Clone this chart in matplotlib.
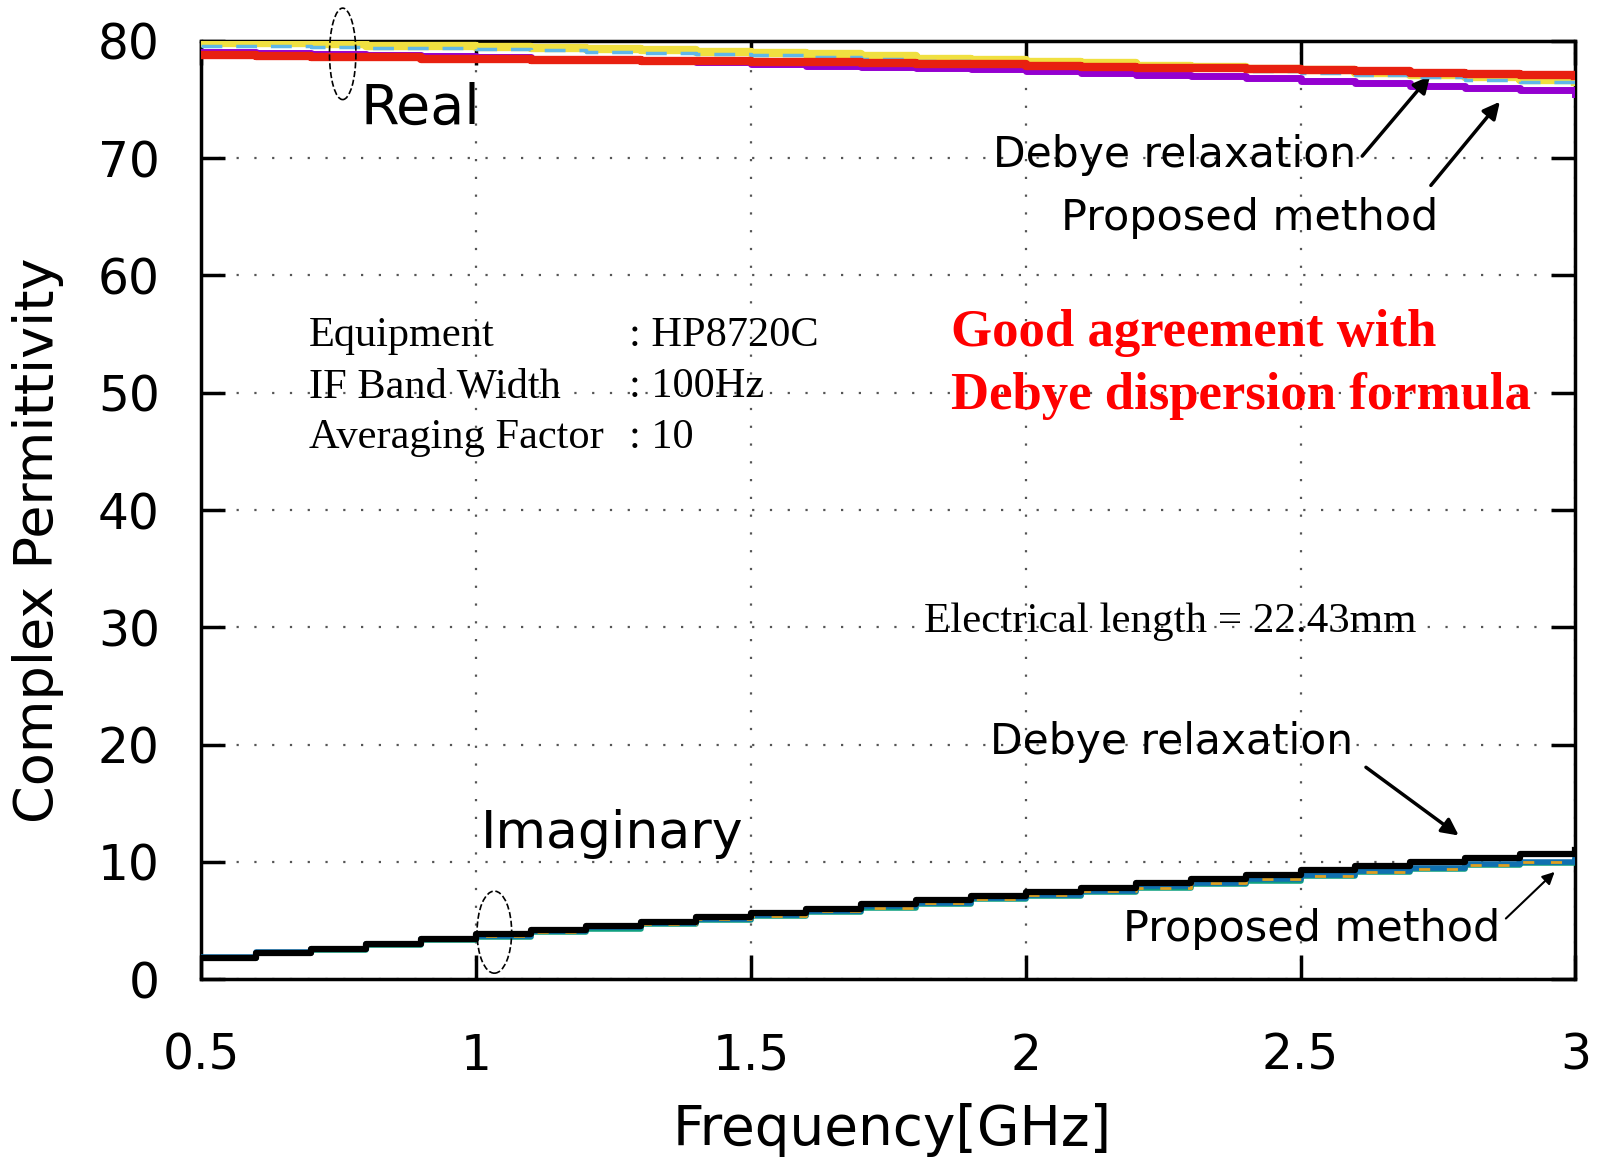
import numpy as np
import matplotlib
matplotlib.use('Agg')
import matplotlib.pyplot as plt
from matplotlib.patches import Ellipse

# frequency samples [GHz]
freq = [0.5, 0.6, 0.7, 0.8, 0.9, 1.0, 1.1, 1.2, 1.3, 1.4, 1.5, 1.6, 1.7,
        1.8, 1.9, 2.0, 2.1, 2.2, 2.3, 2.4, 2.5, 2.6, 2.7, 2.8, 2.9, 3.0]

# real part
real_yellow = [79.8, 79.8, 79.7, 79.6, 79.6, 79.5, 79.4, 79.3, 79.2, 79.1, 79.0, 78.9, 78.7,
               78.5, 78.4, 78.2, 78.1, 77.9, 77.8, 77.6, 77.5, 77.3, 77.1, 76.9, 76.7, 76.5]
real_cyan = [79.6, 79.6, 79.5, 79.4, 79.4, 79.3, 79.2, 79.1, 79.0, 78.9, 78.8, 78.6, 78.5,
             78.3, 78.2, 78.0, 77.9, 77.7, 77.6, 77.4, 77.3, 77.1, 76.9, 76.7, 76.5, 76.3]
real_purple = [79.1, 79.0, 78.9, 78.8, 78.7, 78.6, 78.5, 78.4, 78.3, 78.2, 78.0, 77.9, 77.8,
               77.7, 77.6, 77.4, 77.3, 77.1, 77.0, 76.8, 76.6, 76.4, 76.2, 76.0, 75.8, 75.5]
real_debye = [78.8, 78.7, 78.6, 78.6, 78.5, 78.5, 78.4, 78.4, 78.3, 78.3, 78.2, 78.2, 78.1,
              78.0, 78.0, 77.9, 77.8, 77.7, 77.7, 77.6, 77.5, 77.4, 77.3, 77.2, 77.1, 77.0]

# imaginary part
imag_debye = [1.8, 2.2, 2.6, 3.0, 3.4, 3.8, 4.2, 4.5, 4.9, 5.3, 5.6, 6.0, 6.4,
              6.7, 7.1, 7.4, 7.8, 8.2, 8.5, 8.9, 9.3, 9.6, 10.0, 10.3, 10.7, 11.0]
imag_blue = [1.9, 2.3, 2.6, 3.0, 3.4, 3.7, 4.1, 4.4, 4.8, 5.1, 5.5, 5.8, 6.2,
             6.5, 6.9, 7.2, 7.5, 7.9, 8.2, 8.5, 8.9, 9.2, 9.5, 9.8, 10.0, 10.2]
imag_green = [1.8, 2.2, 2.5, 2.9, 3.3, 3.6, 4.0, 4.3, 4.7, 5.0, 5.4, 5.7, 6.1,
              6.4, 6.8, 7.1, 7.4, 7.8, 8.1, 8.4, 8.8, 9.1, 9.4, 9.7, 9.9, 10.1]
imag_orange = [1.9, 2.2, 2.6, 3.0, 3.3, 3.7, 4.0, 4.4, 4.7, 5.1, 5.4, 5.8, 6.1,
               6.5, 6.8, 7.2, 7.5, 7.8, 8.2, 8.5, 8.8, 9.1, 9.4, 9.7, 10.0, 10.2]

xticks = [0.5, 1, 1.5, 2, 2.5, 3]
xtick_labels = ['0.5', '1', '1.5', '2', '2.5', '3']
yticks = [0, 10, 20, 30, 40, 50, 60, 70, 80]

gothic = ['DejaVu Sans']
serif = ['Liberation Serif', 'DejaVu Serif']

fig = plt.figure(figsize=(16.04, 11.57), dpi=100)
ax = fig.add_axes([0.1256, 0.1538, 0.8565, 0.8108])

ax.plot(freq, real_yellow, color='#f0e040', lw=6, drawstyle='steps-post', zorder=3)
ax.plot(freq, real_cyan, color='#60b8e8', lw=2.5, ls=(0, (6, 4)), drawstyle='steps-post', zorder=4)
ax.plot(freq, real_purple, color='#9400d0', lw=5, drawstyle='steps-post', zorder=3)
ax.plot(freq, real_debye, color='#e82010', lw=6, drawstyle='steps-post', zorder=5)

ax.plot(freq, imag_green, color='#10a080', lw=4, drawstyle='steps-post', zorder=3)
ax.plot(freq, imag_blue, color='#1070b0', lw=4, drawstyle='steps-post', zorder=3)
ax.plot(freq, imag_orange, color='#e0a020', lw=2, ls=(0, (4, 6)), drawstyle='steps-post', zorder=4)
ax.plot(freq, imag_debye, color='black', lw=4.5, drawstyle='steps-post', zorder=5)

ax.set_xlim(0.5, 3)
ax.set_ylim(0, 80)
ax.set_xticks(xticks)
ax.set_xticklabels(xtick_labels)
ax.set_yticks(yticks)
ax.grid(True, color='#555555', ls=(0, (1, 7)), lw=1.6)
ax.tick_params(direction='in', length=17, width=2.5, top=True, right=True, labelsize=35)
ax.tick_params(axis='x', pad=38)
ax.tick_params(axis='y', pad=30)
for lab in ax.get_xticklabels() + ax.get_yticklabels():
    lab.set_family(gothic)
for s in ax.spines.values():
    s.set_linewidth(2.5)

ax.set_xlabel('Frequency[GHz]', fontsize=39.5, family=gothic)
ax.set_ylabel('Complex Permittivity', fontsize=39, family=gothic)
ax.xaxis.set_label_coords(0.503, -0.132)
ax.yaxis.set_label_coords(-0.100, 0.468)

# annotations
ax.text(0.79, 74.2, 'Real', fontsize=40, family=gothic, va='center')
ax.text(1.008, 12.4, 'Imaginary', fontsize=37.5, family=gothic, va='center')
ax.text(1.94, 70.3, 'Debye relaxation', fontsize=30.5, family=gothic, va='center')
ax.text(2.065, 64.9, 'Proposed method', fontsize=31, family=gothic, va='center')
ax.text(1.935, 20.2, 'Debye relaxation', fontsize=30.5, family=gothic, va='center')
ax.text(2.177, 4.3, 'Proposed method', fontsize=31, family=gothic, va='center')

arw = dict(arrowstyle='-|>', color='black', lw=2.5, mutation_scale=25)
ax.annotate('', xy=(2.739, 77.2), xytext=(2.609, 70.0), arrowprops=arw)
ax.annotate('', xy=(2.866, 75.0), xytext=(2.734, 67.5), arrowprops=arw)
ax.annotate('', xy=(2.792, 12.1), xytext=(2.615, 18.2), arrowprops=arw)
ax.annotate('', xy=(2.966, 9.3), xytext=(2.870, 5.0),
            arrowprops=dict(arrowstyle='-|>', color='black', lw=1.5, mutation_scale=18))

ax.add_patch(Ellipse((0.757, 78.9), 0.048, 7.8, fill=False, ls='--', lw=1.2,
                     ec='black', zorder=6, clip_on=False))
ax.add_patch(Ellipse((1.033, 4.0), 0.063, 7.0, fill=False, ls='--', lw=1.2,
                     ec='black', zorder=6))

info_y = [54.9, 50.5, 46.2]
info_left = ['Equipment', 'IF Band Width', 'Averaging Factor']
info_right = [': HP8720C', ': 100Hz', ': 10']
for yy, a, b in zip(info_y, info_left, info_right):
    ax.text(0.695, yy, a, fontsize=30.5, family=serif, va='center')
    ax.text(1.278, yy, b, fontsize=30.5, family=serif, va='center')

ax.text(1.814, 30.5, 'Electrical length = 22.43mm', fontsize=31, family=serif, va='center')
ax.text(1.864, 55.1, 'Good agreement with', fontsize=38, family=serif,
        weight='bold', color='#ff0000', va='center')
ax.text(1.864, 49.7, 'Debye dispersion formula', fontsize=38, family=serif,
        weight='bold', color='#ff0000', va='center')

fig.savefig('out.png', dpi=100)
